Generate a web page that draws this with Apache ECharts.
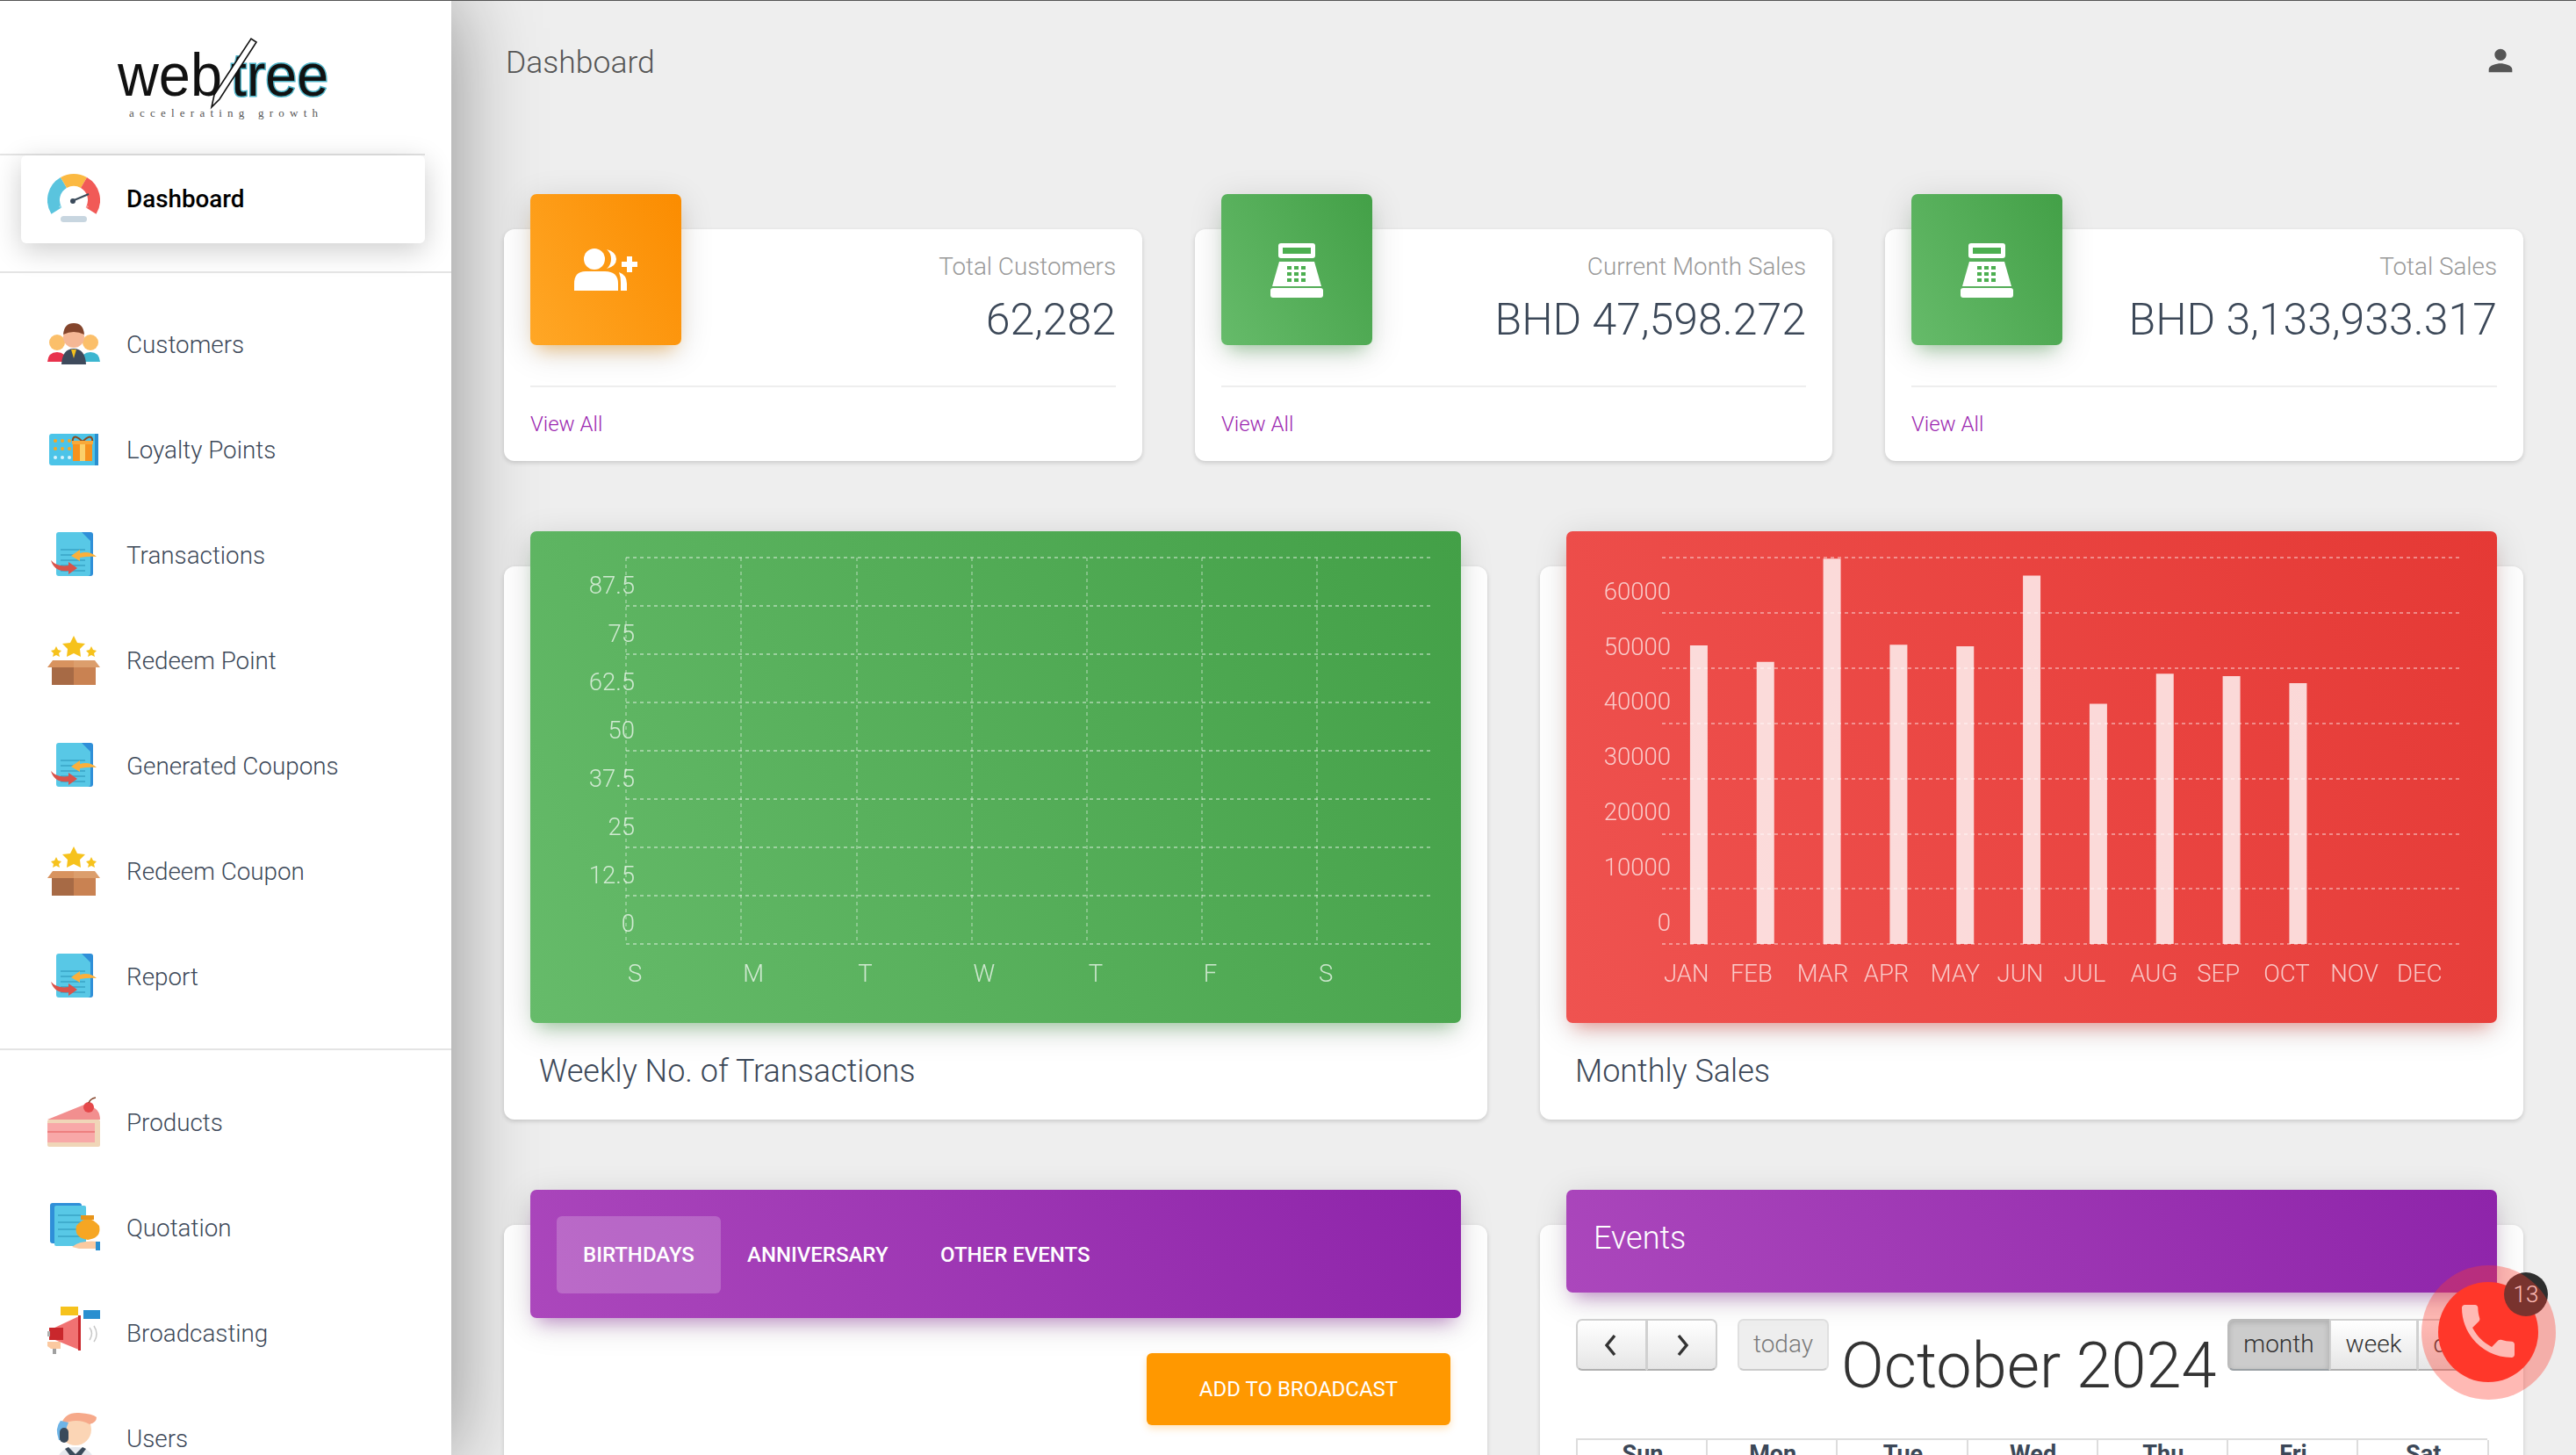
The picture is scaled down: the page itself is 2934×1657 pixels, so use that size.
<!DOCTYPE html>
<html>
<head>
<meta charset="utf-8">
<title>Dashboard</title>
<script src="https://cdn.jsdelivr.net/npm/echarts@6/dist/echarts.min.js"></script>
<style>
    html,body{margin:0;padding:0;width:2934px;height:1657px;overflow:hidden;background:#eee;font-family:Roboto,sans-serif;font-weight:300;color:#3c4858;}
    div,span{position:absolute;white-space:nowrap;}
    svg{position:absolute;overflow:visible;}
    .topline{left:0;top:0;width:2934px;height:1px;background:#555;z-index:30;}
    .sidebar{left:0;top:0;width:514px;height:1657px;background:#fff;box-shadow:0 0 92px rgba(0,0,0,.42);}
    .hr{left:0;height:2px;background:#e4e4e4;}
    .active{left:24px;top:177px;width:460px;height:100px;background:#fff;border-radius:6px;box-shadow:0 8px 32px rgba(0,0,0,.2);}
    .nav{left:144px;font-size:27.8px;line-height:40px;color:#3c4858;}
    .card{background:#fff;border-radius:12px;box-shadow:0 2px 5px rgba(0,0,0,.16);}
    .head{border-radius:7px;}
    .green{background:linear-gradient(60deg,#66bb6a,#43a047);box-shadow:0 8px 38px rgba(0,0,0,.14),0 13px 19px -9px rgba(76,175,80,.45);}
    .red{background:linear-gradient(60deg,#ef5350,#e53935);box-shadow:0 8px 38px rgba(0,0,0,.14),0 13px 19px -9px rgba(244,67,54,.45);}
    .orange{background:linear-gradient(60deg,#ffa726,#fb8c00);box-shadow:0 8px 38px rgba(0,0,0,.14),0 13px 19px -9px rgba(255,152,0,.45);}
    .purple{background:linear-gradient(60deg,#ab47bc,#8e24aa);box-shadow:0 8px 38px rgba(0,0,0,.14),0 13px 19px -9px rgba(156,39,176,.45);}
    .stat-title{font-size:27.8px;line-height:36px;color:#999;text-align:right;}
    .stat-value{font-size:50px;line-height:60px;color:#3c4858;text-align:right;}
    .stat-line{height:2px;background:#eee;}
    .link{font-size:24px;line-height:30px;color:#9c27b0;}
    .chart-title{font-size:36px;line-height:44px;color:#3c4858;}
    .tab{font-size:24px;font-weight:500;line-height:30px;color:#fff;}
    .fc-btn{top:1502px;height:59px;box-sizing:border-box;border:2px solid #d0d0d0;border-bottom-color:#b0b0b0;background:linear-gradient(#fff,#e6e6e6);font-size:28px;line-height:54px;text-align:center;color:#333;}
    .th{top:1640px;width:148px;text-align:center;font-weight:700;font-size:27px;line-height:32px;color:#3c4858;border-left:2px solid #ddd;height:40px;}
</style>
</head>
<body>
<svg width="0" height="0" style="position:absolute">
    <defs>
        <symbol id="i-gauge" viewBox="0 0 60 60">
            <path d="M10.4 44A23 23 0 0 1 18.5 12" fill="none" stroke="#5ac4de" stroke-width="14"/>
            <path d="M18.5 12A23 23 0 0 1 41.5 12" fill="none" stroke="#fbb942" stroke-width="14"/>
            <path d="M41.5 12A23 23 0 0 1 49.6 44" fill="none" stroke="#f15a57" stroke-width="14"/>
            <path d="M15 41A18 18 0 0 1 45 41" fill="none" stroke="#ffffff" stroke-opacity=".35" stroke-width="5"/>
            <rect x="15" y="50" width="30" height="7" rx="3.5" fill="#c8d6e0"/>
            <path d="M28 33L47 25" stroke="#3a4a5a" stroke-width="2"/>
            <circle cx="29" cy="33" r="3" fill="#3a4a5a"/>
        </symbol>
        <symbol id="i-people" viewBox="0 0 60 60">
            <circle cx="11" cy="28" r="9" fill="#fbbf6a"/><path d="M0 50q1-11 11-11t11 11z" fill="#e8324c"/>
            <circle cx="49" cy="28" r="9" fill="#fbbf6a"/><path d="M38 50q1-11 11-11t11 11z" fill="#3cb6d0"/>
            <circle cx="30" cy="22" r="12" fill="#f5b795"/><path d="M18 19q1-13 12-13t12 13q-12-6-24 0z" fill="#84452c"/>
            <path d="M16 53q1-18 14-18t14 18z" fill="#3e4a5c"/><path d="M27 36h6l-3 10z" fill="#f3c01e"/>
        </symbol>
        <symbol id="i-card" viewBox="0 0 60 60">
            <rect x="2" y="12" width="56" height="36" rx="3" fill="#4cc4e8"/><rect x="54" y="12" width="4" height="36" fill="#2a8fd0"/>
            <g fill="#f6a623"><circle cx="9" cy="20" r="2"/><circle cx="17" cy="20" r="2"/><circle cx="25" cy="20" r="2"/><circle cx="9" cy="29" r="2"/><circle cx="17" cy="29" r="2"/><circle cx="25" cy="29" r="2"/></g>
            <g fill="#d8f2fb"><circle cx="9" cy="39" r="2"/><circle cx="17" cy="39" r="2"/><circle cx="25" cy="39" r="2"/></g>
            <rect x="29" y="22" width="22" height="21" fill="#f6921e"/><rect x="37" y="22" width="6" height="21" fill="#fbd06a"/><path d="M40 21q-9-9-11-3t11 3q9-9 11-3t-11 3" fill="none" stroke="#8b4a1e" stroke-width="2"/><rect x="28" y="20" width="24" height="4" fill="#f8a93a"/>
        </symbol>
        <symbol id="i-doc" viewBox="0 0 60 60">
            <rect x="12" y="4" width="40" height="50" rx="3" fill="#2f8fd8"/>
            <path d="M10 7q0-3 3-3h26l10 10v37q0 3-3 3H13q-3 0-3-3z" fill="#58c8e6"/>
            <g stroke="#38a4c6" stroke-width="1.5"><path d="M15 24h28M15 30h28M15 36h28M15 42h28M15 48h28"/></g>
            <path d="M56 32q-8-7-19-4l0-4-10 7 10 6 0-4q11-2 19-1z" fill="#fbb03b"/>
            <path d="M4 36q7 8 20 6l0-4 10 7-10 7 0-4Q8 50 4 36z" fill="#d9534a"/>
        </symbol>
        <symbol id="i-box" viewBox="0 0 60 60">
            <path d="M30 2l4 8 9 1-6 6 1 9-8-4-8 4 1-9-6-6 9-1z" fill="#f6c21c"/>
            <path d="M10 14l2 4 4 1-3 3 1 4-4-2-4 2 1-4-3-3 4-1z" fill="#f6c21c"/><path d="M50 14l2 4 4 1-3 3 1 4-4-2-4 2 1-4-3-3 4-1z" fill="#f6c21c"/>
            <path d="M0 38l6-8h24v8z" fill="#d8935f"/><path d="M60 38l-6-8H30v8z" fill="#dc9e6c"/>
            <rect x="5" y="38" width="25" height="20" fill="#a76a45"/><rect x="30" y="38" width="25" height="20" fill="#c98252"/>
        </symbol>
        <symbol id="i-cake" viewBox="0 0 60 60">
            <path d="M0 27L42 10q18 2 18 17z" fill="#f28f8f"/><circle cx="47" cy="13" r="6" fill="#e5484a"/><path d="M47 8q2-5 8-6" fill="none" stroke="#84452c" stroke-width="1.5"/>
            <rect x="0" y="27" width="60" height="31" rx="2" fill="#f0d6b8"/><rect x="0" y="31" width="54" height="22" fill="#f8a8a8"/><rect x="0" y="40" width="54" height="2" fill="#ee7f7f"/>
        </symbol>
        <symbol id="i-quote" viewBox="0 0 60 60">
            <rect x="3" y="2" width="36" height="46" rx="3" fill="#2f8fd8"/><rect x="8" y="5" width="36" height="46" rx="2" fill="#58c8e6"/>
            <g stroke="#38a4c6" stroke-width="1.5"><path d="M12 16h26M12 24h26M12 32h26M12 40h26"/></g>
            <path d="M33 28q7-8 13-8t13 8q3 14-13 16-16-2-13-16z" fill="#f6a623"/><rect x="38" y="16" width="15" height="5" fill="#e8941a"/>
            <path d="M28 52q10-8 30-6v8H36z" fill="#fbc9a0"/><rect x="55" y="46" width="5" height="10" fill="#2a8fd0"/>
        </symbol>
        <symbol id="i-mega" viewBox="0 0 60 60">
            <rect x="15" y="0" width="20" height="10" fill="#f6c21c"/><rect x="41" y="4" width="19" height="10" fill="#2a8fd0"/>
            <path d="M4 26l34-16v40L4 36z" fill="#f07272"/><rect x="2" y="24" width="16" height="14" fill="#c9272c"/><rect x="35" y="10" width="3" height="40" fill="#c9272c"/>
            <rect x="0" y="28" width="3" height="6" fill="#b0b0b0"/><path d="M0 40h15v8H4l-4-3z" fill="#fbc9a0"/><rect x="6" y="48" width="4" height="6" fill="#a0a0a0"/>
            <path d="M48 24q5 6 0 14M53 22q6 9 0 18" fill="none" stroke="#c8c8c8" stroke-width="1.5"/>
        </symbol>
        <symbol id="i-user" viewBox="0 0 60 60">
            <circle cx="32" cy="20" r="18" fill="#fbd5b5"/><path d="M16 14q4-14 20-13t20 5q0 6-8 8-14-8-32 0z" fill="#f6a98a"/>
            <path d="M15 10q-7 8-2 22l9 0q-3-10 2-20z" fill="#6eb4e6"/><rect x="14" y="18" width="10" height="17" rx="5" fill="#3a4a5a"/>
            <path d="M10 60q2-20 22-20t22 20z" fill="#e6e9ee"/><path d="M20 42l12 16 12-16-4-2-8 8-8-8z" fill="#3a4a5a"/>
        </symbol>
    </defs>
</svg>

<!-- 左侧菜单 -->
<div class="sidebar" id="sidebar">
    <svg style="left:120px;top:30px" width="270" height="115" viewBox="0 0 270 115">
        <text x="14" y="79" font-family="'Liberation Sans'" font-size="68" fill="#111" textLength="119" lengthAdjust="spacingAndGlyphs">web</text>
        <text x="143" y="79" font-family="'Liberation Sans'" font-size="68" fill="#111" stroke="#4fb4c8" stroke-width="3" paint-order="stroke" textLength="111" lengthAdjust="spacingAndGlyphs">tree</text>
        <path d="M121 92L124 78L166 14L172 18L130 83z" fill="#fff" stroke="#111" stroke-width="1.6"/>
        <text x="27" y="103" font-family="'Liberation Serif'" font-size="13" fill="#555" textLength="215">accelerating growth</text>
    </svg>
    <div class="hr" style="top:175px;width:484px"></div>
    <div class="active"></div>
    <div class="hr" style="top:309px;width:514px"></div>
    <div class="hr" style="top:1194px;width:514px"></div>
</div>

<div class="topline"></div>

<!-- 顶部 -->
<div style="left:576px;top:49px;font-size:35.5px;line-height:44px;color:#555">Dashboard</div>
<svg style="left:2828px;top:49px" width="40" height="40" viewBox="0 0 24 24"><path fill="#555" d="M12 12c2.21 0 4-1.79 4-4s-1.79-4-4-4-4 1.79-4 4 1.79 4 4 4zm0 2c-2.67 0-8 1.34-8 4v2h16v-2c0-2.66-5.33-4-8-4z"/></svg>

<div id="stats"></div>

<!-- 图表卡片 -->
<div class="card" style="left:574px;top:645px;width:1120px;height:630px"></div>
<div class="card" style="left:1754px;top:645px;width:1120px;height:630px"></div>
<div class="head green" style="left:604px;top:605px;width:1060px;height:560px"></div>
<div class="head red" style="left:1784px;top:605px;width:1060px;height:560px"></div>
<div id="weekChart" style="left:604px;top:605px;width:1060px;height:560px"></div>
<div id="monthChart" style="left:1784px;top:605px;width:1060px;height:560px"></div>
<div class="chart-title" style="left:614px;top:1198px">Weekly No. of Transactions</div>
<div class="chart-title" style="left:1794px;top:1198px">Monthly Sales</div>

<!-- 生日 -->
<div class="card" style="left:574px;top:1395px;width:1120px;height:400px"></div>
<div class="head purple" style="left:604px;top:1355px;width:1060px;height:146px"></div>
<div style="left:634px;top:1385px;width:187px;height:88px;border-radius:6px;background:rgba(255,255,255,.2)"></div>
<div class="tab" style="left:664px;top:1414px">BIRTHDAYS</div>
<div class="tab" style="left:851px;top:1414px">ANNIVERSARY</div>
<div class="tab" style="left:1071px;top:1414px">OTHER EVENTS</div>
<div style="left:1306px;top:1541px;width:346px;height:82px;border-radius:6px;background:#ff9800;box-shadow:0 4px 8px rgba(255,152,0,.25);color:#fff;font-size:24px;font-weight:400;line-height:82px;text-align:center">ADD TO BROADCAST</div>

<!-- 日历 -->
<div class="card" style="left:1754px;top:1395px;width:1120px;height:400px"></div>
<div class="head purple" style="left:1784px;top:1355px;width:1060px;height:117px"></div>
<div style="left:1815px;top:1388px;font-size:36px;line-height:44px;color:#fff">Events</div>
<div class="fc-btn" style="left:1795px;width:81px;border-radius:7px 0 0 7px"></div>
<div class="fc-btn" style="left:1875px;width:81px;border-radius:0 7px 7px 0"></div>
<svg style="left:1824px;top:1518px" width="22" height="28" viewBox="0 0 22 28"><path d="M15 3L6 14l9 11" fill="none" stroke="#333" stroke-width="3.4"/></svg>
<svg style="left:1905px;top:1518px" width="22" height="28" viewBox="0 0 22 28"><path d="M7 3l9 11-9 11" fill="none" stroke="#333" stroke-width="3.4"/></svg>
<div class="fc-btn" style="left:1979px;width:104px;border-radius:7px;opacity:.65;background:#e6e6e6">today</div>
<div style="left:2097px;top:1514px;font-size:72px;line-height:84px;color:#333">October 2024</div>
<div class="fc-btn" style="left:2537px;width:117px;border-radius:7px 0 0 7px;background:#ccc;border-color:#bbb;border-bottom-color:#9aa0a4;box-shadow:inset 0 2px 6px rgba(0,0,0,.15)">month</div>
<div class="fc-btn" style="left:2653px;width:101px">week</div>
<div class="fc-btn" style="left:2753px;width:80px;border-radius:0 7px 7px 0">day</div>
<div style="left:1795px;top:1638px;width:1038px;height:2px;background:#ddd"></div>
<div id="calHead"></div>

<!-- 电话按钮 -->
<div style="left:2852px;top:1449px;width:50px;height:50px;border-radius:25px;background:#2e2e2e;color:#fff;font-size:26px;line-height:50px;text-align:center;z-index:21">13</div>
<div style="left:2777px;top:1460px;width:114px;height:114px;border-radius:57px;background:#ff3528;z-index:20"></div>
<svg style="left:2794px;top:1476px;z-index:20" width="80" height="80" viewBox="0 0 24 24"><path fill="#fff" d="M6.62 10.79c1.44 2.83 3.76 5.14 6.59 6.59l2.2-2.2c.27-.27.67-.36 1.02-.24 1.12.37 2.33.57 3.57.57.55 0 1 .45 1 1V20c0 .55-.45 1-1 1-9.39 0-17-7.61-17-17 0-.55.45-1 1-1h3.5c.55 0 1 .45 1 1 0 1.25.2 2.45.57 3.57.11.35.03.74-.25 1.02l-2.2 2.2z"/></svg>
<div style="left:2758px;top:1441px;width:153px;height:153px;border-radius:77px;background:rgba(255,60,48,.36);z-index:22"></div>

<script>
(function () {
    'use strict';
    // 菜单
    var menu = [
        {name:'Dashboard', y:227, icon:'i-gauge'},
        {name:'Customers', y:393, icon:'i-people'},
        {name:'Loyalty Points', y:513, icon:'i-card'},
        {name:'Transactions', y:633, icon:'i-doc'},
        {name:'Redeem Point', y:753, icon:'i-box'},
        {name:'Generated Coupons', y:873, icon:'i-doc'},
        {name:'Redeem Coupon', y:993, icon:'i-box'},
        {name:'Report', y:1113, icon:'i-doc'},
        {name:'Products', y:1279, icon:'i-cake'},
        {name:'Quotation', y:1399, icon:'i-quote'},
        {name:'Broadcasting', y:1519, icon:'i-mega'},
        {name:'Users', y:1639, icon:'i-user'}
    ];
    var html = '';
    for (var i = 0; i < menu.length; i++) {
        var extra = i === 0 ? ';font-weight:500;color:#000' : '';
        html += '<svg style="left:54px;top:' + (menu[i].y - 31) + 'px" width="60" height="60"><use href="#' + menu[i].icon + '"/></svg>';
        html += '<div class="nav" style="top:' + (menu[i].y - 20) + 'px' + extra + '">' + menu[i].name + '</div>';
    }
    document.getElementById('sidebar').insertAdjacentHTML('beforeend', html);

    // 统计卡片
    var userIcon = '<svg style="left:50px;top:62px" width="72" height="48" viewBox="0 0 72 48"><circle cx="23" cy="12" r="12" fill="#fff"/><path d="M37 1q11 3 11 11t-11 11q5-4 5-11t-5-11z" fill="#fff"/><path d="M0 48V40q0-14 13-14h22q15 0 15 14v8z" fill="#fff"/><path d="M51 27q9 3 9 13v8h-7v-9q0-7-2-12z" fill="#fff"/><path d="M60 9h6v6h6v6h-6v6h-6v-6h-6v-6h6z" fill="#fff"/></svg>';
    var regIcon = '<svg style="left:56px;top:56px" width="60" height="62" viewBox="0 0 60 62"><rect x="9" y="0" width="42" height="17" rx="3" fill="#fff"/><rect x="14" y="5" width="32" height="7" fill="#4caf50"/><path d="M10 21h40l8 28H2z" fill="#fff"/><rect x="0" y="51" width="60" height="11" rx="3" fill="#fff"/>' +
        '<g fill="#4caf50"><rect x="19" y="26" width="5" height="4"/><rect x="27" y="26" width="5" height="4"/><rect x="35" y="26" width="5" height="4"/><rect x="19" y="33" width="5" height="4"/><rect x="27" y="33" width="5" height="4"/><rect x="35" y="33" width="5" height="4"/><rect x="19" y="40" width="5" height="4"/><rect x="27" y="40" width="5" height="4"/><rect x="35" y="40" width="5" height="4"/></g></svg>';
    var stats = [
        {left:574, width:727, title:'Total Customers', value:'62,282', cls:'orange', icon:userIcon},
        {left:1361, width:726, title:'Current Month Sales', value:'BHD 47,598.272', cls:'green', icon:regIcon},
        {left:2147, width:727, title:'Total Sales', value:'BHD 3,133,933.317', cls:'green', icon:regIcon}
    ];
    html = '';
    for (i = 0; i < stats.length; i++) {
        var s = stats[i];
        var inner = s.left + 30;
        var innerW = s.width - 60;
        html += '<div class="card" style="left:' + s.left + 'px;top:261px;width:' + s.width + 'px;height:264px"></div>';
        html += '<div class="head ' + s.cls + '" style="left:' + inner + 'px;top:221px;width:172px;height:172px">' + s.icon + '</div>';
        html += '<div class="stat-title" style="left:' + inner + 'px;top:286px;width:' + innerW + 'px">' + s.title + '</div>';
        html += '<div class="stat-value" style="left:' + inner + 'px;top:334px;width:' + innerW + 'px">' + s.value + '</div>';
        html += '<div class="stat-line" style="left:' + inner + 'px;top:439px;width:' + innerW + 'px"></div>';
        html += '<div class="link" style="left:' + inner + 'px;top:468px">View All</div>';
    }
    document.getElementById('stats').innerHTML = html;

    // 日历表头
    var days = ['Sun','Mon','Tue','Wed','Thu','Fri','Sat'];
    html = '';
    for (i = 0; i < days.length; i++) {
        html += '<div class="th" style="left:' + (1795 + i * 148.2) + 'px">' + days[i] + '</div>';
    }
    html += '<div class="th" style="left:2833px;width:0"></div>';
    document.getElementById('calHead').innerHTML = html;

    var labelColor = 'rgba(255,255,255,.7)';
    var gridColor = 'rgba(255,255,255,.4)';

    function valueAxis(max, interval, grid, visible, up) {
        return {
            type:'value', gridIndex:grid, min:0, max:max, interval:interval, show:visible,
            axisLine:{show:false}, axisTick:{show:false},
            axisLabel:{
                color:labelColor, fontSize:27.5, fontFamily:'Roboto', fontWeight:300,
                margin:-10, verticalAlign:'bottom', padding:[0,0,up,0], showMaxLabel:false,
                formatter:function (v) { return String(v); }
            },
            splitLine:{show:visible, lineStyle:{color:gridColor, width:2, type:[4,4]}}
        };
    }
    // x轴文字靠左对齐到刻度
    function labelAxis(names, band, split) {
        return {
            type:'category', data:names, gridIndex:0, boundaryGap:true,
            axisLine:{show:false}, axisTick:{show:false},
            axisLabel:{
                interval:0, margin:22,
                formatter:'{a|{value}}',
                rich:{a:{width:band, align:'left', padding:[0,0,0,2], color:labelColor, fontSize:27.5, fontFamily:'Roboto', fontWeight:300}}
            },
            splitLine:{show:split, showMaxLine:false, lineStyle:{color:gridColor, width:1.5, type:[4,4]}}
        };
    }

    // 每周交易数
    var weekDays = ['S','M','T','W','T','F','S'];
    var weekData = [0,0,0,0,0,0,0];
    var weekChart = echarts.init(document.getElementById('weekChart'));
    weekChart.setOption({
        animation:false,
        grid:{left:109, top:30, right:33, bottom:90},
        xAxis:labelAxis(weekDays, 129, true),
        yAxis:valueAxis(100, 12.5, 0, true, 7),
        series:[{type:'bar', data:weekData, barWidth:20, itemStyle:{color:'rgba(255,255,255,.8)'}}]
    });

    // 每月销售额
    var months = ['JAN','FEB','MAR','APR','MAY','JUN','JUL','AUG','SEP','OCT','NOV','DEC'];
    var salesData = [54090,51100,69790,54230,53940,66740,43500,48970,48540,47260,0,0];
    var monthChart = echarts.init(document.getElementById('monthChart'));
    monthChart.setOption({
        animation:false,
        grid:[
            {left:109, top:30, right:40, bottom:90},
            {left:113, top:30, right:37, bottom:90}
        ],
        xAxis:[
            labelAxis(months, 74, false),
            {type:'category', data:months, gridIndex:1, show:false}
        ],
        yAxis:[
            valueAxis(70000, 10000, 0, true, 8),
            valueAxis(70000, 10000, 1, false, 8)
        ],
        series:[{type:'bar', xAxisIndex:1, yAxisIndex:1, data:salesData, barWidth:20, itemStyle:{color:'rgba(255,255,255,.8)'}}]
    });
})();
</script>
</body>
</html>
